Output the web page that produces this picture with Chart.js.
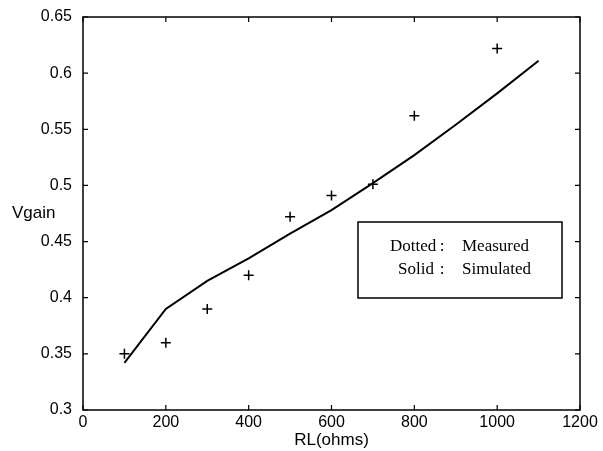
<!DOCTYPE html>
<html>
<head>
  <title>Vgain vs RL</title>
  <script src="https://cdn.jsdelivr.net/npm/chart.js"></script>
  <style>
    body { margin: 0; background: #fff; }
    .wrap { width: 603px; height: 451px; position: relative; }
  </style>
</head>
<body>
  <div class="wrap">
    <canvas id="gainChart" width="603" height="451"></canvas>
  </div>

  <script>
    // measured points (+ marks)
    const measuredRL = [100, 200, 300, 400, 500, 600, 700, 800, 1000];
    const measuredGain = [0.35, 0.36, 0.39, 0.42, 0.472, 0.491, 0.501, 0.562, 0.622];

    // simulated curve (solid line)
    const simRL = [100, 200, 300, 400, 500, 600, 700, 800, 900, 1000, 1100];
    const simGain = [0.342, 0.39, 0.415, 0.435, 0.457, 0.478, 0.502, 0.527, 0.554, 0.582, 0.611];

    const xTicks = [0, 200, 400, 600, 800, 1000, 1200];
    const yTicks = [0.3, 0.35, 0.4, 0.45, 0.5, 0.55, 0.6, 0.65];

    // legend text: label, description
    const legendLines = [['Dotted', 'Measured'], ['Solid', 'Simulated']];

    // frame, inward ticks, horizontal y title and the text legend box
    const framePlugin = {
      id: 'frame',
      afterDraw(chart) {
        const ctx = chart.ctx;
        const a = chart.chartArea;
        const xs = chart.scales.x, ys = chart.scales.y;
        ctx.save();
        ctx.strokeStyle = '#000';
        ctx.lineWidth = 1.5;
        ctx.strokeRect(a.left, a.top, a.right - a.left, a.bottom - a.top);

        ctx.lineWidth = 1.2;
        ctx.beginPath();
        xTicks.forEach(v => {
          const px = xs.getPixelForValue(v);
          ctx.moveTo(px, a.bottom); ctx.lineTo(px, a.bottom - 5);
          ctx.moveTo(px, a.top); ctx.lineTo(px, a.top + 5);
        });
        yTicks.forEach(v => {
          const py = ys.getPixelForValue(v);
          ctx.moveTo(a.left, py); ctx.lineTo(a.left + 5, py);
          ctx.moveTo(a.right, py); ctx.lineTo(a.right - 5, py);
        });
        ctx.stroke();

        // y title, written horizontally at mid height
        ctx.fillStyle = '#000';
        ctx.font = '17px "Liberation Sans", Arial, sans-serif';
        ctx.textAlign = 'left';
        ctx.textBaseline = 'middle';
        ctx.fillText('Vgain', 12, (a.top + a.bottom) / 2);

        // legend box
        const bx = a.left + 275, by = a.top + 205, bw = 204, bh = 76;
        ctx.lineWidth = 1.5;
        ctx.strokeRect(bx, by, bw, bh);
        ctx.font = '17px "Liberation Serif", "Times New Roman", serif';
        ctx.textBaseline = 'alphabetic';
        const labelX = [32, 40];
        legendLines.forEach((row, i) => {
          const ty = by + 29 + i * 23;
          ctx.textAlign = 'left';
          ctx.fillText(row[0], bx + labelX[i], ty);
          ctx.textAlign = 'center';
          ctx.fillText(':', bx + 84, ty);
          ctx.textAlign = 'left';
          ctx.fillText(row[1], bx + 104, ty);
        });
        ctx.restore();
      }
    };

    const tickFont = { family: '"Liberation Sans", Arial, sans-serif', size: 16 };
    const titleFont = { family: '"Liberation Sans", Arial, sans-serif', size: 17 };

    new Chart(document.getElementById('gainChart'), {
      type: 'scatter',
      data: {
        datasets: [
          {
            label: 'Measured',
            data: measuredRL.map((x, i) => ({ x: x, y: measuredGain[i] })),
            showLine: false,
            pointStyle: 'cross',
            pointRadius: 5,
            pointBorderWidth: 1.5,
            borderColor: '#000',
            backgroundColor: '#000'
          },
          {
            label: 'Simulated',
            data: simRL.map((x, i) => ({ x: x, y: simGain[i] })),
            showLine: true,
            pointRadius: 0,
            borderWidth: 2,
            borderColor: '#000',
            tension: 0
          }
        ]
      },
      options: {
        responsive: false,
        animation: false,
        devicePixelRatio: 1,
        layout: { padding: { left: 0, top: 17, right: 23, bottom: 0 } },
        plugins: { legend: { display: false }, tooltip: { enabled: false } },
        scales: {
          x: {
            type: 'linear',
            min: 0, max: 1200,
            afterFit: s => { s.height = 41; },
            afterBuildTicks: s => { s.ticks = xTicks.map(v => ({ value: v })); },
            grid: { display: false, drawTicks: false },
            border: { display: false },
            ticks: {
              color: '#000', font: tickFont, padding: 3, maxRotation: 0, autoSkip: false,
              callback: v => String(v)
            },
            title: {
              display: true, text: 'RL(ohms)', color: '#000',
              font: titleFont, padding: { top: 0, bottom: 0 }
            }
          },
          y: {
            type: 'linear',
            min: 0.3, max: 0.65,
            afterFit: s => { s.width = 83; s.paddingTop = 0; s.paddingBottom = 0; },
            afterBuildTicks: s => { s.ticks = yTicks.map(v => ({ value: v })); },
            grid: { display: false, drawTicks: false },
            border: { display: false },
            ticks: {
              color: '#000', font: tickFont, padding: 11, autoSkip: false,
              callback: v => String(Number(v.toFixed(2)))
            }
          }
        }
      },
      plugins: [framePlugin]
    });
  </script>
</body>
</html>
